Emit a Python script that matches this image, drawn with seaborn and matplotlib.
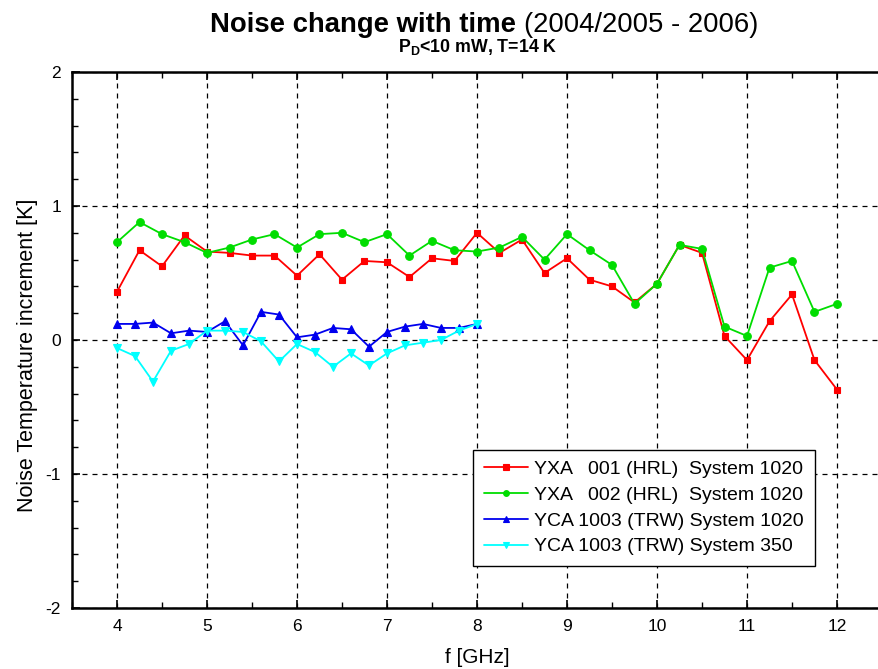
import matplotlib
matplotlib.use("Agg")
import matplotlib.pyplot as plt
import seaborn as sns
import pandas as pd
import numpy as np
from matplotlib.ticker import MultipleLocator

# ---- data ----
f_yxa = [4.0, 4.25, 4.5, 4.75, 5.0, 5.25, 5.5, 5.75, 6.0, 6.25, 6.5, 6.75,
         7.0, 7.25, 7.5, 7.75, 8.0, 8.25, 8.5, 8.75, 9.0, 9.25, 9.5, 9.75,
         10.0, 10.25, 10.5, 10.75, 11.0, 11.25, 11.5, 11.75, 12.0]
yxa001 = [0.36, 0.67, 0.55, 0.78, 0.66, 0.65, 0.63, 0.63, 0.48, 0.64, 0.45, 0.59,
          0.58, 0.47, 0.61, 0.59, 0.80, 0.65, 0.75, 0.50, 0.61, 0.45, 0.40, 0.28,
          0.42, 0.71, 0.65, 0.03, -0.15, 0.14, 0.34, -0.15, -0.37]
yxa002 = [0.73, 0.88, 0.79, 0.73, 0.65, 0.69, 0.75, 0.79, 0.69, 0.79, 0.80, 0.73,
          0.79, 0.63, 0.74, 0.67, 0.66, 0.69, 0.77, 0.60, 0.79, 0.67, 0.56, 0.27,
          0.42, 0.71, 0.68, 0.10, 0.03, 0.54, 0.59, 0.21, 0.27]
f_yca = [4.0, 4.2, 4.4, 4.6, 4.8, 5.0, 5.2, 5.4, 5.6, 5.8, 6.0, 6.2, 6.4, 6.6,
         6.8, 7.0, 7.2, 7.4, 7.6, 7.8, 8.0]
yca1020 = [0.12, 0.12, 0.13, 0.05, 0.07, 0.06, 0.14, -0.04, 0.21, 0.19, 0.02,
           0.04, 0.09, 0.08, -0.05, 0.06, 0.10, 0.12, 0.09, 0.09, 0.12]
yca350 = [-0.06, -0.12, -0.31, -0.08, -0.03, 0.07, 0.07, 0.06, -0.01, -0.16,
          -0.03, -0.09, -0.20, -0.10, -0.19, -0.10, -0.04, -0.02, 0.00, 0.07, 0.12]
labels = ["YXA   001 (HRL)  System 1020", "YXA   002 (HRL)  System 1020",
          "YCA 1003 (TRW) System 1020", "YCA 1003 (TRW) System 350"]
xticks = [4, 5, 6, 7, 8, 9, 10, 11, 12]
yticks = [-2, -1, 0, 1, 2]

sns.set_theme(style="ticks")
plt.rcParams['font.family'] = ['Liberation Sans', 'DejaVu Sans']
plt.rcParams['axes.unicode_minus'] = False
plt.rcParams['text.color'] = 'black'
plt.rcParams['axes.labelcolor'] = 'black'
plt.rcParams['xtick.color'] = 'black'
plt.rcParams['ytick.color'] = 'black'
plt.rcParams['mathtext.fontset'] = 'custom'
plt.rcParams['mathtext.bf'] = 'Liberation Sans:bold'
plt.rcParams['mathtext.rm'] = 'Liberation Sans'

W, H = 879, 669
fig = plt.figure(figsize=(W/100, H/100), dpi=100)
ax = fig.add_axes([72/W, 1-608/H, 9*90/W, 536/H])

series = [
    (f_yxa, yxa001, "#ff0000", "s", 5),
    (f_yxa, yxa002, "#00dd00", "o", 5.5),
    (f_yca, yca1020, "#0000ee", "^", 6),
    (f_yca, yca350, "#00ffff", "v", 6),
]
for (fx, vals, col, mk, ms), lab in zip(series, labels):
    df = pd.DataFrame({"f": fx, "v": vals})
    sns.lineplot(data=df, x="f", y="v", ax=ax, color=col, marker=mk,
                 markersize=ms, markeredgecolor=col, markeredgewidth=0.8,
                 linewidth=1.3, label=lab, errorbar=None)

ax.set_xlim(3.5, 12.5)
ax.set_ylim(-2, 2)
ax.set_xticks(xticks)
ax.set_yticks(yticks)
ax.xaxis.set_minor_locator(MultipleLocator(0.5))
ax.yaxis.set_minor_locator(MultipleLocator(0.2))
ax.tick_params(which='both', direction='in', top=True, right=False, color='black')
ax.tick_params(which='major', length=6, width=1.2, labelsize=12.5, pad=8)
ax.tick_params(which='minor', length=4, width=1.0)
ax.grid(True, which='major', linestyle=(0, (4, 4)), color='black', linewidth=0.9)
for s in ['left', 'bottom', 'top']:
    ax.spines[s].set_color('black')
    ax.spines[s].set_linewidth(1.8)
ax.spines['right'].set_visible(False)

ax.set_xlabel("f [GHz]", fontsize=15, labelpad=10)
ax.set_ylabel("Noise Temperature increment [K]", fontsize=15.5)
ax.yaxis.set_label_coords(-0.042, 0.472)

leg = ax.legend(loc='lower left', bbox_to_anchor=(0.495, 0.078), fontsize=14,
                frameon=True, fancybox=False, edgecolor='black', framealpha=1,
                handlelength=2.3, handletextpad=0.3, borderpad=0.55,
                labelspacing=0.42, markerscale=0.75, borderaxespad=0)
leg.get_frame().set_linewidth(1.0)

# title: bold part + normal part at the same size, spanning x 210..757 px
t1 = fig.text(210/W, 1-32/H, "Noise change with time", ha='left', va='baseline',
              fontsize=19, fontweight='bold')
t2 = fig.text(500/W, 1-32/H, "(2004/2005 - 2006)", ha='left', va='baseline',
              fontsize=19)
t3 = fig.text(478/W, 1-52/H, r"$\mathbf{P_D}$<10 mW, T=14 K", ha='center', va='baseline',
              fontsize=8.5, fontweight='bold')

fig.canvas.draw()
r = fig.canvas.get_renderer()
w1 = t1.get_window_extent(r).width
w2 = t2.get_window_extent(r).width
gap = 0.278 * 19 * 100 / 72
scale = 547 / (w1 + w2 + gap)
fs = 19 * scale
t1.set_fontsize(fs)
t2.set_fontsize(fs)
fig.canvas.draw()
w1 = t1.get_window_extent(r).width
t2.set_x((210 + w1 + 0.278 * fs * 100 / 72) / W)
w3 = t3.get_window_extent(r).width
t3.set_fontsize(8.5 * 160 / w3)

fig.savefig("out.png", dpi=100)
